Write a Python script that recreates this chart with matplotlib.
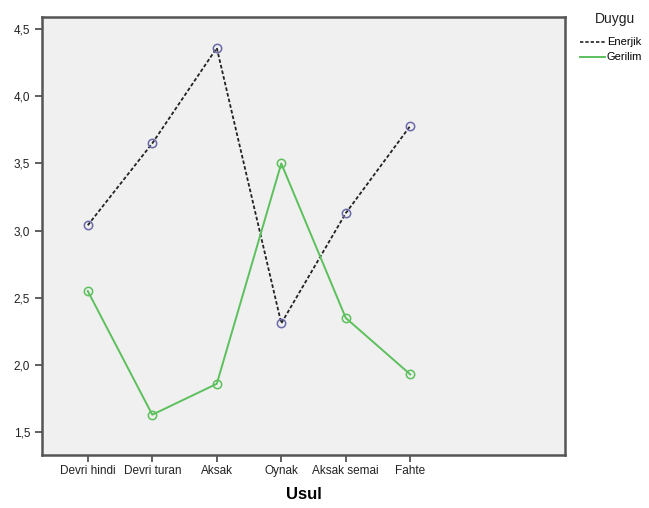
import numpy as np
import matplotlib
matplotlib.use("Agg")
import matplotlib.pyplot as plt
from matplotlib.lines import Line2D

plt.rcParams['font.family'] = ['Liberation Sans', 'DejaVu Sans']

usul = ["Devri hindi", "Devri turan", "Aksak", "Oynak", "Aksak semai", "Fahte"]
enerjik = [3.04, 3.65, 4.36, 2.31, 3.13, 3.78]
gerilim = [2.55, 1.63, 1.86, 3.50, 2.35, 1.93]

x = np.arange(1, len(usul) + 1)

fig = plt.figure(figsize=(6.49, 5.08), dpi=100)
ax = fig.add_axes([0.0647, 0.1043, 0.806, 0.8622])
ax.set_facecolor("#f0f0f0")

ax.plot(x, enerjik, color="#222222", linestyle=(0, (2, 1.2)), linewidth=1.3,
        marker="o", markersize=6, markerfacecolor="none",
        markeredgecolor="#6a6aaa", markeredgewidth=1.1)
ax.plot(x, gerilim, color="#5cc05c", linestyle="-", linewidth=1.4,
        marker="o", markersize=6, markerfacecolor="none",
        markeredgecolor="#5cc05c", markeredgewidth=1.1)

ax.set_xlim(0.29, 8.4)
ax.set_ylim(1.33, 4.59)
ax.set_xticks(x)
ax.set_xticklabels(usul, fontsize=8.5)
yt = [1.5, 2.0, 2.5, 3.0, 3.5, 4.0, 4.5]
ax.set_yticks(yt)
ax.set_yticklabels([f"{v:.1f}".replace(".", ",") for v in yt], fontsize=8.5)
ax.tick_params(direction="out", length=5, width=1.2, color="#444444", labelcolor="#222222")
ax.tick_params(axis="x", pad=2.5)
for s in ax.spines.values():
    s.set_color("#555555")
    s.set_linewidth(1.8)
ax.set_xlabel("Usul", fontsize=12, fontweight="bold", labelpad=7)

# legend drawn by hand like SPSS
fig.text(0.948, 0.963, "Duygu", fontsize=10, ha="center", va="center", color="#222222")
fig.add_artist(Line2D([0.893, 0.932], [0.918, 0.918], color="#222222",
                      linestyle=(0, (2, 1.2)), linewidth=1.2))
fig.text(0.935, 0.918, "Enerjik", fontsize=8, ha="left", va="center")
fig.add_artist(Line2D([0.893, 0.932], [0.888, 0.888], color="#5cc05c", linewidth=1.4))
fig.text(0.935, 0.888, "Gerilim", fontsize=8, ha="left", va="center")

fig.savefig("out.png", dpi=100, facecolor="white")
